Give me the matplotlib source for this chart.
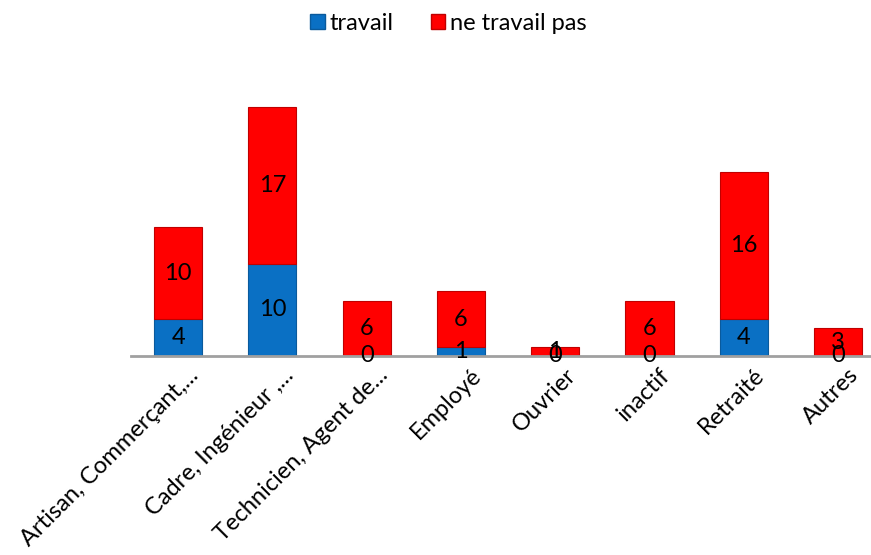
import matplotlib
matplotlib.use("Agg")
import matplotlib.pyplot as plt
import matplotlib.transforms as mtransforms
import numpy as np
from matplotlib.patches import Patch

plt.rcParams['font.family'] = ['Lato', 'DejaVu Sans']

categories = ["Artisan, Commerçant,...", "Cadre, Ingénieur ,...", "Technicien, Agent de...",
              "Employé", "Ouvrier", "inactif", "Retraité", "Autres"]
travail = [4, 10, 0, 1, 0, 0, 4, 0]
ne_travail_pas = [10, 17, 6, 6, 1, 6, 16, 3]

blue = "#0A70C4"
red = "#FF0000"

fig = plt.figure(figsize=(8.71, 5.55), dpi=100)
ax = fig.add_axes([131/871, (555-356)/555, 740/871, (356-79.4)/555])

x = np.arange(len(categories))
w = 0.51
ax.bar(x, travail, w, color=blue, edgecolor="#0A5A9C", linewidth=0.8, label="travail")
ax.bar(x, ne_travail_pas, w, bottom=travail, color=red, edgecolor="#C00000",
       linewidth=0.8, label="ne travail pas")

fs = 17
for i in range(len(x)):
    ax.text(x[i], travail[i] / 2, str(travail[i]), ha="center", va="center", fontsize=fs, color="black")
    ax.text(x[i], travail[i] + ne_travail_pas[i] / 2, str(ne_travail_pas[i]), ha="center",
            va="center", fontsize=fs, color="black")

ax.set_xlim(-0.5, 7.35)
ax.set_ylim(0, 30)
for s in ["top", "right", "left"]:
    ax.spines[s].set_visible(False)
ax.spines["bottom"].set_color("#A0A0A0")
ax.spines["bottom"].set_linewidth(2)
ax.set_yticks([])
ax.set_xticks(x)
ax.set_xticklabels(categories, rotation=45, ha="right", rotation_mode="anchor", fontsize=fs)
ax.tick_params(axis="x", length=0, pad=6)
offset = mtransforms.ScaledTranslation(10/100, 0, fig.dpi_scale_trans)
for lab in ax.get_xticklabels():
    lab.set_transform(lab.get_transform() + offset)

handles = [Patch(facecolor=blue, edgecolor="#0A5A9C"), Patch(facecolor=red, edgecolor="#C00000")]
fig.legend(handles, ["travail", "ne travail pas"], loc="upper center", bbox_to_anchor=(0.515, 1.015),
           ncol=2, frameon=False, fontsize=fs, handlelength=0.6, handleheight=0.6,
           handletextpad=0.2, columnspacing=1.6)

fig.savefig("out.png", dpi=100)
